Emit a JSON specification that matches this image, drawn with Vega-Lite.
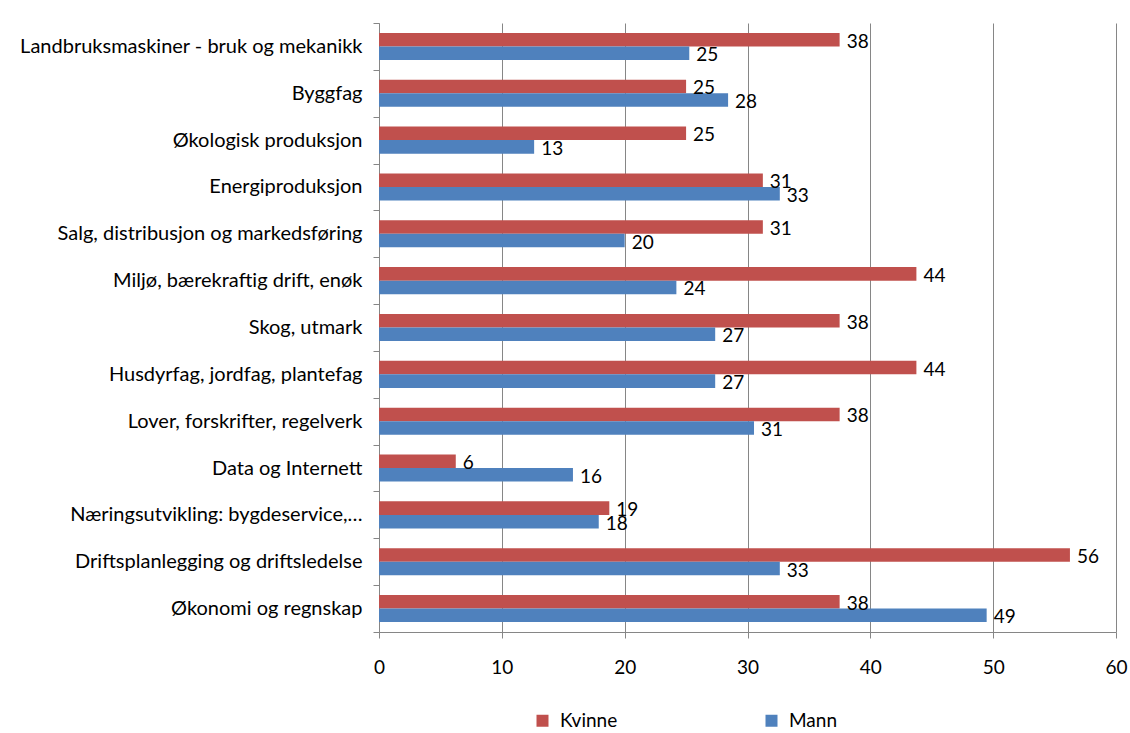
{
  "$schema": "https://vega.github.io/schema/vega-lite/v6.json",
  "autosize": {"type": "none"},
  "padding": {"left": 379, "top": 23, "right": 14, "bottom": 101},
  "width": 737,
  "height": 609,
  "background": "white",
  "config": {
    "font": "Lato",
    "view": {"stroke": null},
    "axis": {"labelFont": "Lato", "labelColor": "black", "domainColor": "#868686", "tickColor": "#868686", "gridColor": "#868686"}
  },
  "data": {
    "values": [
      {"kategori": "Landbruksmaskiner - bruk og mekanikk", "kjonn": "Kvinne", "prosent": 37.5},
      {"kategori": "Landbruksmaskiner - bruk og mekanikk", "kjonn": "Mann", "prosent": 25.26},
      {"kategori": "Byggfag", "kjonn": "Kvinne", "prosent": 25.0},
      {"kategori": "Byggfag", "kjonn": "Mann", "prosent": 28.42},
      {"kategori": "Økologisk produksjon", "kjonn": "Kvinne", "prosent": 25.0},
      {"kategori": "Økologisk produksjon", "kjonn": "Mann", "prosent": 12.63},
      {"kategori": "Energiproduksjon", "kjonn": "Kvinne", "prosent": 31.25},
      {"kategori": "Energiproduksjon", "kjonn": "Mann", "prosent": 32.63},
      {"kategori": "Salg, distribusjon og markedsføring", "kjonn": "Kvinne", "prosent": 31.25},
      {"kategori": "Salg, distribusjon og markedsføring", "kjonn": "Mann", "prosent": 20.0},
      {"kategori": "Miljø, bærekraftig drift, enøk", "kjonn": "Kvinne", "prosent": 43.75},
      {"kategori": "Miljø, bærekraftig drift, enøk", "kjonn": "Mann", "prosent": 24.21},
      {"kategori": "Skog, utmark", "kjonn": "Kvinne", "prosent": 37.5},
      {"kategori": "Skog, utmark", "kjonn": "Mann", "prosent": 27.37},
      {"kategori": "Husdyrfag, jordfag, plantefag", "kjonn": "Kvinne", "prosent": 43.75},
      {"kategori": "Husdyrfag, jordfag, plantefag", "kjonn": "Mann", "prosent": 27.37},
      {"kategori": "Lover, forskrifter, regelverk", "kjonn": "Kvinne", "prosent": 37.5},
      {"kategori": "Lover, forskrifter, regelverk", "kjonn": "Mann", "prosent": 30.53},
      {"kategori": "Data og Internett", "kjonn": "Kvinne", "prosent": 6.25},
      {"kategori": "Data og Internett", "kjonn": "Mann", "prosent": 15.79},
      {"kategori": "Næringsutvikling: bygdeservice,…", "kjonn": "Kvinne", "prosent": 18.75},
      {"kategori": "Næringsutvikling: bygdeservice,…", "kjonn": "Mann", "prosent": 17.89},
      {"kategori": "Driftsplanlegging og driftsledelse", "kjonn": "Kvinne", "prosent": 56.25},
      {"kategori": "Driftsplanlegging og driftsledelse", "kjonn": "Mann", "prosent": 32.63},
      {"kategori": "Økonomi og regnskap", "kjonn": "Kvinne", "prosent": 37.5},
      {"kategori": "Økonomi og regnskap", "kjonn": "Mann", "prosent": 49.47}
    ]
  },
  "encoding": {
    "y": {
      "field": "kategori", "type": "nominal", "sort": null,
      "scale": {"paddingInner": 0, "paddingOuter": 0},
      "axis": {"title": null, "tickBand": "extent", "tickSize": 6, "labelPadding": 11, "labelFontSize": 20, "labelLimit": 400, "grid": false}
    },
    "yOffset": {
      "field": "kjonn", "type": "nominal", "sort": ["Kvinne", "Mann"],
      "scale": {"paddingInner": 0, "paddingOuter": 0.73}
    },
    "x": {
      "field": "prosent", "type": "quantitative",
      "scale": {"domain": [0, 60], "nice": false},
      "axis": {"title": null, "values": [0, 10, 20, 30, 40, 50, 60], "tickSize": 6, "labelPadding": 20, "labelFontSize": 19, "grid": true, "labelFlush": false}
    }
  },
  "layer": [
    {
      "mark": {"type": "bar"},
      "encoding": {
        "color": {
          "field": "kjonn", "type": "nominal",
          "scale": {"domain": ["Kvinne", "Mann"], "range": ["#C0504D", "#4F81BD"]},
          "legend": {"title": null, "orient": "none", "legendX": 154, "legendY": 688, "direction": "horizontal", "symbolType": "square", "symbolSize": 144, "symbolStrokeWidth": 0, "labelFontSize": 19, "labelFont": "Lato", "columnPadding": 144, "labelOffset": 8}
        }
      }
    },
    {
      "mark": {"type": "text", "align": "left", "baseline": "middle", "dx": 7, "dy": 2, "fontSize": 19, "font": "Lato", "color": "black"},
      "encoding": {
        "text": {"field": "prosent", "type": "quantitative", "format": ".0f"}
      }
    }
  ]
}
